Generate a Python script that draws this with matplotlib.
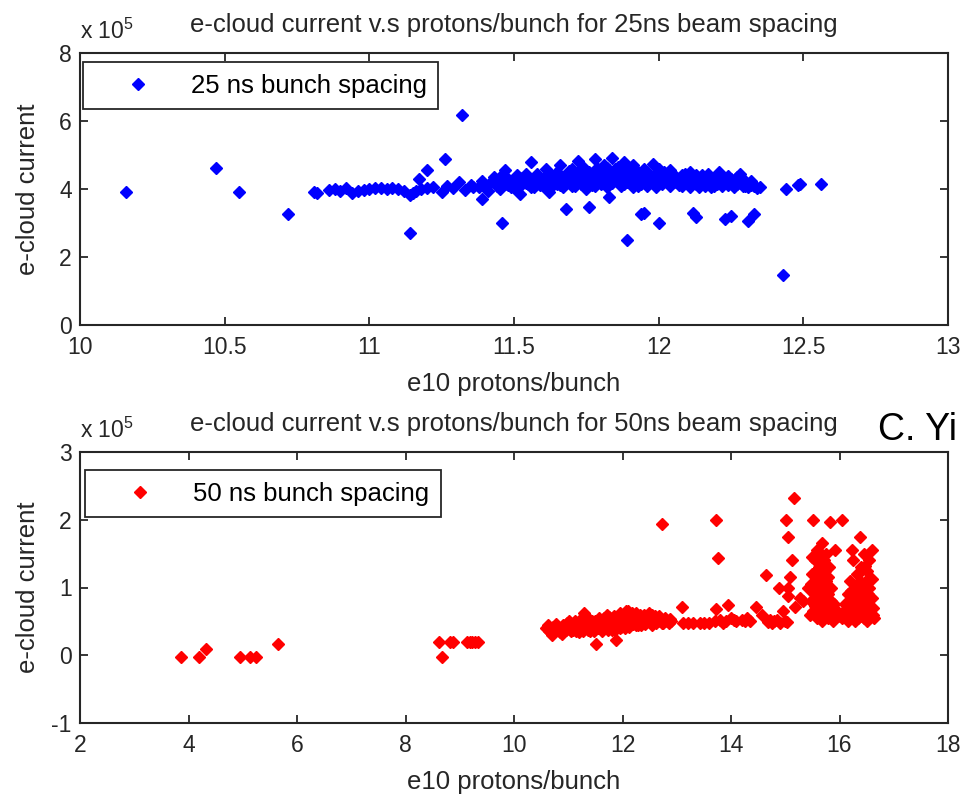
import matplotlib
matplotlib.use("Agg")
import matplotlib.pyplot as plt

plt.rcParams['font.family'] = ['Liberation Sans', 'DejaVu Sans']
plt.rcParams['mathtext.fontset'] = 'custom'
plt.rcParams['mathtext.rm'] = 'Liberation Sans'
plt.rcParams['axes.unicode_minus'] = False

# --- 25 ns spacing: protons/bunch (e10) and e-cloud current (x1e5) ---
p25 = [10.16, 10.47, 10.55, 10.72, 10.81, 10.82,
       10.86, 10.88, 10.90, 10.92, 10.94, 10.96, 10.98, 11.00, 11.02, 11.04,
       11.06, 11.08, 11.10, 11.12, 11.14, 11.15, 11.16, 11.18, 11.20, 11.22,
       11.14, 11.17, 11.20, 11.25, 11.26, 11.27, 11.29, 11.31, 11.32, 11.33, 11.35, 11.36,
       11.38, 11.39, 11.40, 11.41, 11.42, 11.43, 11.44, 11.45, 11.46, 11.47,
       11.47, 11.48, 11.49, 11.50, 11.51, 11.52, 11.53, 11.54, 11.55, 11.56,
       11.56, 11.57, 11.58, 11.59, 11.60, 11.61, 11.61, 11.62, 11.63, 11.64,
       11.65, 11.65, 11.66, 11.67, 11.67, 11.68, 11.69, 11.70, 11.70, 11.71,
       11.72, 11.72, 11.73, 11.74, 11.74, 11.75, 11.76, 11.76, 11.77, 11.78,
       11.78, 11.79, 11.79, 11.80, 11.80, 11.81, 11.81, 11.82, 11.83, 11.83,
       11.84, 11.84, 11.85, 11.86, 11.86, 11.87, 11.88, 11.88, 11.89, 11.90,
       11.91, 11.91, 11.92, 11.93, 11.94, 11.95, 11.95, 11.96, 11.97, 11.98,
       11.98, 11.99, 12.00, 12.01, 12.02, 12.03, 12.04, 12.05, 12.06, 12.07,
       12.08, 12.09, 12.10, 12.11, 12.12, 12.13, 12.14, 12.15, 12.16, 12.17,
       12.18, 12.19, 12.20, 12.21, 12.22, 12.23, 12.24, 12.25, 12.26, 12.27,
       12.28, 12.29, 12.30, 12.31, 12.32, 12.33, 12.34, 12.35,
       11.45, 11.48, 11.50, 11.52, 11.54, 11.55, 11.57, 11.58, 11.60, 11.62,
       11.63, 11.64, 11.66, 11.68, 11.69, 11.70, 11.71, 11.73, 11.74, 11.75,
       11.77, 11.78, 11.80, 11.82, 11.82, 11.84, 11.85, 11.87, 11.88, 11.89,
       11.90, 11.92, 11.93, 11.94, 11.96, 11.97, 11.99, 12.00, 12.01, 12.03,
       12.04, 12.06, 12.07, 12.08, 12.10, 12.11, 12.13, 12.14, 12.16, 12.17,
       12.19, 12.20, 12.22, 12.24, 12.26, 12.27, 12.29, 12.30, 12.32,
       11.39, 11.46, 11.68, 11.76, 11.83, 11.89, 11.94, 11.95, 12.00, 12.12,
       12.13, 12.23, 12.25, 12.31, 12.33, 11.62, 11.52,
       12.44, 12.48, 12.49, 12.56, 12.43]
i25 = [3.91, 4.62, 3.91, 3.26, 3.91, 3.88,
       3.96, 4.00, 3.94, 4.02, 3.88, 3.93, 3.97, 4.00, 4.03, 4.02,
       3.99, 4.03, 4.00, 3.95, 3.83, 3.88, 3.95, 4.00, 4.02, 4.05,
       2.70, 4.29, 4.56, 3.92, 4.88, 4.10, 4.02, 4.20, 6.18, 3.98, 4.12, 4.05,
       4.05, 4.25, 4.12, 3.95, 4.20, 4.35, 4.10, 4.00, 4.22, 4.55,
       4.15, 4.30, 4.05, 4.20, 4.40, 4.10, 4.28, 4.18, 4.35, 4.05,
       4.79, 4.22, 4.45, 4.12, 4.30, 4.60, 4.18, 4.38, 4.08, 4.25,
       4.50, 4.15, 4.70, 4.32, 4.05, 4.42, 4.20, 4.58, 4.10, 4.30,
       4.82, 4.45, 4.15, 4.65, 4.28, 4.00, 4.50, 4.20, 4.38, 4.88,
       4.10, 4.60, 4.30, 4.45, 4.15, 4.72, 4.25, 4.05, 4.55, 4.35,
       4.90, 4.18, 4.42, 4.65, 4.28, 4.10, 4.80, 4.50, 4.20, 4.38,
       4.70, 4.05, 4.25, 4.48, 4.15, 4.60, 4.32, 4.10, 4.40, 4.74,
       4.22, 4.05, 4.35, 4.15, 4.50, 4.25, 4.08, 4.40, 4.20, 4.30,
       4.10, 4.45, 4.22, 4.05, 4.35, 4.15, 4.28, 4.40, 4.10, 4.22,
       4.05, 4.30, 4.15, 4.50, 4.08, 4.20, 4.12, 4.30, 4.05, 4.15,
       4.44, 4.10, 4.20, 4.05, 4.12, 4.08, 4.02, 4.06,
       4.35, 4.12, 4.02, 4.32, 4.45, 4.15, 4.05, 4.30, 4.10, 4.48,
       4.20, 4.40, 4.12, 4.28, 4.52, 4.38, 4.08, 4.40, 4.55, 4.30,
       4.12, 4.55, 4.60, 4.38, 4.62, 4.30, 4.58, 4.40, 4.15, 4.62,
       4.25, 4.55, 4.10, 4.38, 4.50, 4.22, 4.45, 4.60, 4.28, 4.40,
       4.55, 4.35, 4.12, 4.40, 4.35, 4.50, 4.42, 4.05, 4.35, 4.45,
       4.10, 4.35, 4.30, 4.38, 4.25, 4.35, 4.30, 4.10, 4.25,
       3.70, 3.00, 3.41, 3.47, 3.76, 2.50, 3.26, 3.28, 3.00, 3.30,
       3.18, 3.12, 3.20, 3.06, 3.26, 3.90, 3.85,
       4.00, 4.12, 4.15, 4.15, 1.47]

# --- 50 ns spacing ---
p50 = [3.86, 4.20, 4.32, 4.95, 5.13, 5.25, 5.65,
       8.62, 8.67, 8.82, 8.88, 9.13, 9.18, 9.23, 9.28, 9.34,
       10.59, 10.65, 10.70, 10.75, 10.78, 10.80, 10.85, 10.88, 10.90, 10.95,
       10.98, 11.00, 11.05, 11.08, 11.10, 11.12, 11.15, 11.18, 11.20, 11.22,
       11.25, 11.28, 11.29, 11.30, 11.35, 11.38, 11.40, 11.42, 11.45, 11.48,
       11.50, 11.51, 11.55, 11.58, 11.60, 11.62, 11.65, 11.68, 11.70, 11.72,
       11.75, 11.78, 11.80, 11.82, 11.85, 11.88, 11.90, 11.92, 11.95, 11.98,
       12.00, 12.02, 12.05, 12.08, 12.10, 12.12, 12.15, 12.18, 12.20, 12.22,
       12.25, 12.28, 12.30, 12.32, 12.35, 12.38, 12.40, 12.42, 12.45, 12.48,
       12.50, 12.52, 12.55, 12.58, 12.60, 12.62, 12.65, 12.68, 12.70, 12.73,
       12.75, 12.78, 12.80, 12.85, 12.88, 12.90,
       10.62, 10.72, 10.82, 10.92, 11.02, 11.06, 11.14, 11.24, 11.32, 11.36,
       11.44, 11.52, 11.56, 11.64, 11.74, 11.76, 11.84, 11.86, 11.94, 11.96,
       12.04, 12.06, 12.14, 12.16, 12.24, 12.26, 12.34, 12.44, 12.54, 12.64,
       12.72, 12.82,
       13.10, 13.12, 13.20, 13.30, 13.43, 13.50, 13.60, 13.72, 13.70, 13.80,
       13.85, 13.90, 13.94, 14.00, 14.05, 14.10, 14.20, 14.25, 14.30, 14.35,
       13.72, 13.76,
       14.46, 14.57, 14.64, 14.68, 14.72, 14.75, 14.80, 14.85, 14.88, 14.90,
       14.96, 15.00, 15.03, 15.01, 15.05, 15.05, 15.05, 15.09, 15.12, 15.16,
       15.18, 15.27, 15.32,
       15.42, 15.51, 15.82, 15.68, 15.92, 15.45, 15.48, 15.50, 15.52, 15.55,
       15.55, 15.58, 15.60, 15.60, 15.62, 15.63, 15.65, 15.65, 15.67, 15.68,
       15.70, 15.70, 15.72, 15.72, 15.75, 15.75, 15.78, 15.78, 15.80, 15.80,
       15.82, 15.85, 15.85, 15.88, 15.90, 15.92, 15.95, 15.50, 15.58, 15.62,
       15.66, 15.74, 15.76, 15.60, 15.68, 15.55, 15.88, 15.98,
       15.47, 15.53, 15.57, 15.61, 15.64, 15.66, 15.69, 15.71, 15.73, 15.77,
       15.79, 15.83, 15.86, 15.90, 15.58, 15.64,
       16.05, 16.38, 16.23, 16.60, 16.25, 16.47, 16.60, 16.08, 16.10, 16.12,
       16.15, 16.18, 16.20, 16.22, 16.25, 16.28, 16.30, 16.30, 16.33, 16.35,
       16.35, 16.38, 16.40, 16.42, 16.45, 16.45, 16.48, 16.50, 16.52, 16.55,
       16.55, 16.58, 16.60, 16.62, 16.40, 16.32, 16.50, 16.15, 16.20, 16.05,
       16.28, 16.50,
       16.10, 16.14, 16.17, 16.21, 16.24, 16.27, 16.31, 16.34, 16.37, 16.41,
       16.44, 16.47, 16.49, 16.53, 16.57, 16.61, 16.63, 16.45, 16.55]
i50 = [-0.03, -0.03, 0.09, -0.03, -0.03, -0.03, 0.17,
       0.19, -0.03, 0.19, 0.19, 0.19, 0.19, 0.19, 0.19, 0.19,
       0.40, 0.36, 0.30, 0.38, 0.46, 0.42, 0.35, 0.32, 0.44, 0.38,
       0.48, 0.42, 0.36, 0.38, 0.45, 0.50, 0.40, 0.44, 0.34, 0.52,
       0.46, 0.36, 0.62, 0.40, 0.48, 0.54, 0.36, 0.42, 0.44, 0.36,
       0.50, 0.16, 0.40, 0.52, 0.47, 0.36, 0.55, 0.45, 0.42, 0.60,
       0.50, 0.44, 0.38, 0.50, 0.58, 0.23, 0.45, 0.55, 0.62, 0.42,
       0.50, 0.60, 0.40, 0.48, 0.66, 0.42, 0.55, 0.62, 0.46, 0.54,
       0.62, 0.45, 0.52, 0.60, 0.44, 0.52, 0.60, 0.46, 0.50, 0.62,
       0.56, 0.50, 0.45, 0.54, 0.58, 0.48, 0.50, 0.58, 0.55, 1.93,
       0.47, 0.55, 0.52, 0.48, 0.54, 0.50,
       0.44, 0.42, 0.38, 0.36, 0.50, 0.44, 0.36, 0.40, 0.44, 0.38,
       0.50, 0.44, 0.55, 0.42, 0.38, 0.56, 0.44, 0.38, 0.48, 0.40,
       0.54, 0.66, 0.48, 0.60, 0.44, 0.56, 0.50, 0.56, 0.60, 0.52,
       0.48, 0.50,
       0.71, 0.47, 0.48, 0.47, 0.47, 0.48, 0.47, 0.69, 0.50, 0.52,
       0.48, 0.50, 0.74, 0.55, 0.52, 0.50, 0.52, 0.50, 0.55, 0.50,
       2.00, 1.44,
       0.71, 0.60, 1.18, 0.49, 0.52, 0.47, 0.50, 0.52, 1.00, 0.47,
       0.66, 0.50, 0.49, 2.00, 1.74, 1.00, 0.88, 1.15, 1.40, 2.32,
       0.71, 0.85, 0.80,
       1.00, 2.00, 1.97, 1.66, 1.56, 0.60, 0.80, 1.20, 0.65, 1.40,
       0.95, 0.55, 1.10, 0.75, 1.30, 0.60, 1.50, 0.90, 0.70, 1.20,
       1.00, 0.55, 1.40, 0.80, 0.65, 1.10, 0.90, 0.55, 1.30, 0.70,
       0.60, 0.80, 1.00, 0.60, 0.75, 0.55, 0.65, 1.45, 1.55, 1.00,
       0.62, 1.25, 1.50, 0.85, 0.50, 0.72, 0.50, 0.58,
       1.05, 0.90, 1.25, 0.58, 0.78, 1.05, 1.35, 0.68, 0.92, 0.60,
       1.15, 0.72, 0.60, 0.58, 1.00, 1.45,
       2.00, 1.74, 1.56, 1.56, 1.40, 1.32, 1.13, 0.60, 0.75, 0.55,
       0.90, 0.62, 1.10, 0.70, 0.55, 0.85, 1.00, 0.60, 0.75, 1.20,
       0.55, 0.90, 0.65, 1.05, 0.80, 0.55, 0.95, 0.62, 0.75, 0.58,
       1.00, 0.70, 0.85, 0.60, 1.30, 1.20, 1.25, 0.50, 0.58, 0.55,
       0.50, 0.50,
       0.65, 0.70, 0.80, 0.95, 0.62, 0.70, 0.90, 0.62, 1.10, 0.58,
       0.70, 0.62, 1.10, 0.90, 0.62, 0.70, 0.55, 1.50, 1.40]

W, H = 964, 795
fig = plt.figure(figsize=(W / 100, H / 100), dpi=100)
ax1 = fig.add_axes([80 / W, 1 - 325 / H, 868 / W, 272 / H])
ax2 = fig.add_axes([80 / W, 1 - 723 / H, 868 / W, 271 / H])

ink = '#262626'


def style(ax):
    for s in ax.spines.values():
        s.set_linewidth(1.5)
        s.set_color(ink)
    ax.tick_params(direction='in', top=True, right=True, length=6, width=1.3,
                   color=ink, labelcolor=ink, labelsize=16.5)
    ax.tick_params(axis='x', pad=8)
    ax.tick_params(axis='y', pad=6)
    ax.yaxis.set_label_coords(-40 / 868, 0.5)


def decorate(ax, title, legend_anchor):
    style(ax)
    ax.set_xlabel('e10 protons/bunch', fontsize=18.5, color=ink, labelpad=9)
    ax.set_ylabel('e-cloud current', fontsize=18.5, color=ink)
    ax.set_title(title, fontsize=18.5, color=ink, pad=15)
    ax.text(0, 1.035, r'x 10$^{5}$', transform=ax.transAxes, fontsize=16.5,
            color=ink, va='bottom')
    leg = ax.legend(loc='upper left', fontsize=18.5, frameon=True, fancybox=False,
                    edgecolor=ink, borderpad=0.45, handlelength=3.4,
                    handletextpad=0.35, bbox_to_anchor=legend_anchor,
                    borderaxespad=0, numpoints=1)
    leg.get_frame().set_linewidth(1.3)
    leg.get_frame().set_alpha(1)


ax1.plot(p25, i25, 'D', color='blue', ms=5.8, mec='blue', linestyle='none',
         label='25 ns bunch spacing')
ax1.set_xlim(10, 13)
ax1.set_ylim(0, 8)
ax1.set_xticks([10, 10.5, 11, 11.5, 12, 12.5, 13])
ax1.set_xticklabels(['10', '10.5', '11', '11.5', '12', '12.5', '13'])
ax1.set_yticks([0, 2, 4, 6, 8])
decorate(ax1, 'e-cloud current v.s protons/bunch for 25ns beam spacing',
         (3 / 868, 1 - 9 / 272))

ax2.plot(p50, i50, 'D', color='red', ms=5.8, mec='red', linestyle='none',
         label='50 ns bunch spacing')
ax2.set_xlim(2, 18)
ax2.set_ylim(-1, 3)
ax2.set_xticks([2, 4, 6, 8, 10, 12, 14, 16, 18])
ax2.set_yticks([-1, 0, 1, 2, 3])
decorate(ax2, 'e-cloud current v.s protons/bunch for 50ns beam spacing',
         (5 / 868, 1 - 18 / 271))

fig.text(878 / W, 1 - 430 / H, 'C. Yi', fontsize=27, va='center', ha='left')

fig.savefig('out.png', dpi=100)
